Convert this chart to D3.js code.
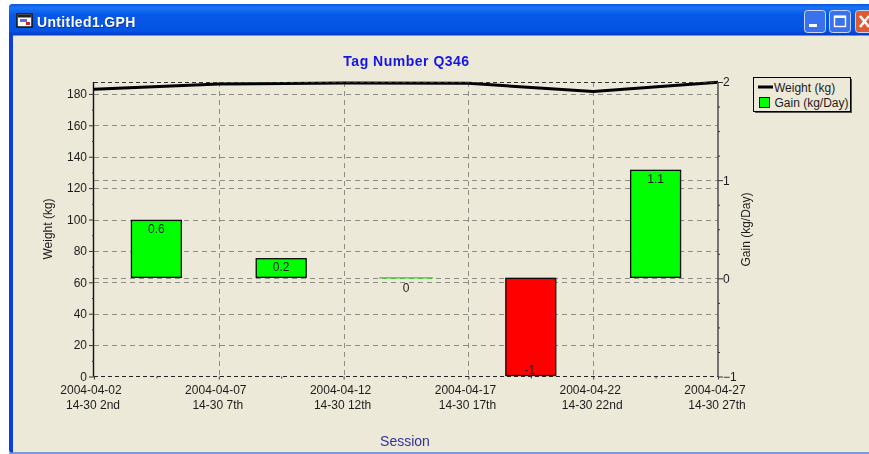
<!DOCTYPE html>
<html>
<head>
<meta charset="utf-8">
<script src="https://cdn.jsdelivr.net/npm/d3@7"></script>
<style>
  html, body { margin: 0; padding: 0; background: #fff; overflow: hidden; }
  svg { display: block; filter: blur(0.35px); }
  text { font-family: "Liberation Sans", Arial, sans-serif; fill: #1c1c1c; }
  .domain { display: none; }
</style>
</head>
<body>
<svg width="869" height="454"></svg>
<script>
const parseDate = d3.timeParse('%Y-%m-%d %H');

// weight line, one point per session
const sessionDates = ['2004-04-02 00', '2004-04-07 00', '2004-04-12 00', '2004-04-17 00', '2004-04-22 00', '2004-04-27 00'];
const sessionNames = ['14-30 2nd', '14-30 7th', '14-30 12th', '14-30 17th', '14-30 22nd', '14-30 27th'];
const weights = [183, 186.3, 187, 186.8, 181.5, 187.5];

// gain bars, centred between sessions
const gainDates = ['2004-04-04 12', '2004-04-09 12', '2004-04-14 12', '2004-04-19 12', '2004-04-24 12'];
const gains = [0.59, 0.2, 0, -1, 1.1];
const gainLabels = ['0.6', '0.2', '0', '-1', '1.1'];

const weightTicks = [0, 20, 40, 60, 80, 100, 120, 140, 160, 180];
const weightMinor = [10, 30, 50, 70, 90, 110, 130, 150, 170];
const gainTicks = [-1, 0, 1, 2];
const gainMinor = [-0.75, -0.5, -0.25, 0.25, 0.5, 0.75, 1.25, 1.5, 1.75];
const minorDates = ['2004-04-04 12', '2004-04-09 12', '2004-04-14 12', '2004-04-19 12', '2004-04-24 12'];

const legendLabels = ['Weight (kg)', 'Gain (kg/Day)'];

const plotLeft = 94, plotRight = 718, plotTop = 82, plotBottom = 376.5;
const svg = d3.select('svg');

// window frame
const grad = svg.append('defs').append('linearGradient')
  .attr('id', 'titlebar').attr('x1', 0).attr('x2', 0).attr('y1', 0).attr('y2', 1);
grad.append('stop').attr('offset', '0').attr('stop-color', '#0a55e4');
grad.append('stop').attr('offset', '0.12').attr('stop-color', '#1a74f4');
grad.append('stop').attr('offset', '0.35').attr('stop-color', '#0658e6');
grad.append('stop').attr('offset', '0.85').attr('stop-color', '#0454e4');
grad.append('stop').attr('offset', '1').attr('stop-color', '#0338c4');

svg.append('rect').attr('x', 9).attr('y', 4).attr('width', 880).attr('height', 449.5).attr('rx', 4).attr('fill', '#0a40d8');
svg.append('rect').attr('x', 9).attr('y', 4).attr('width', 880).attr('height', 31.5).attr('rx', 4).attr('fill', 'url(#titlebar)');
svg.append('rect').attr('x', 13).attr('y', 35.5).attr('width', 860).attr('height', 417).attr('fill', '#ECE9D8');
svg.append('rect').attr('x', 9).attr('y', 452.5).attr('width', 860).attr('height', 1.5).attr('fill', '#7b9bd8');

// title bar icon
const icon = svg.append('g');
icon.append('rect').attr('x', 17).attr('y', 14).attr('width', 15).attr('height', 13).attr('fill', '#fff').attr('stroke', '#111').attr('stroke-width', 1.5);
icon.append('rect').attr('x', 18).attr('y', 15).attr('width', 13).attr('height', 2.5).attr('fill', '#222');
icon.append('rect').attr('x', 20).attr('y', 19).attr('width', 7).attr('height', 3).attr('fill', '#6a6ad8');
icon.append('rect').attr('x', 26).attr('y', 22).attr('width', 4).attr('height', 3).attr('fill', '#c23');

svg.append('text').attr('x', 37.5).attr('y', 28)
  .style('fill', '#0a2f9a').style('font-weight', 'bold').style('font-size', '14px').style('letter-spacing', '0.35px')
  .text('Untitled1.GPH');
svg.append('text').attr('x', 37).attr('y', 27)
  .style('fill', '#fff').style('font-weight', 'bold').style('font-size', '14px').style('letter-spacing', '0.35px')
  .text('Untitled1.GPH');

// window buttons
[[804, '#3a72ee'], [829, '#3a72ee'], [855, '#dd5a32']].forEach(b => {
  svg.append('rect').attr('x', b[0] + 0.5).attr('y', 10.5).attr('width', 21).attr('height', 22).attr('rx', 3)
    .attr('fill', b[1]).attr('stroke', '#c8d6f6').attr('stroke-width', 1);
});
svg.append('rect').attr('x', 809).attr('y', 24).attr('width', 8).attr('height', 3).attr('fill', '#fff');
svg.append('rect').attr('x', 834.5).attr('y', 16.5).attr('width', 11).attr('height', 10).attr('fill', 'none').attr('stroke', '#fff').attr('stroke-width', 1.4);
svg.append('rect').attr('x', 834).attr('y', 15.5).attr('width', 12).attr('height', 2.5).attr('fill', '#fff');
svg.append('path').attr('d', 'M860 16L869 27M869 16L860 27').attr('stroke', '#fff').attr('stroke-width', 2.6).attr('fill', 'none');

// scales
const x = d3.scaleTime()
  .domain([parseDate(sessionDates[0]), parseDate(sessionDates[5])])
  .range([plotLeft, plotRight]);
const yWeight = d3.scaleLinear().domain([0, 187.6]).range([plotBottom, plotTop]);
const yGain = d3.scaleLinear().domain([-1, 2]).range([plotBottom, plotTop]);

// grid
const grid = svg.append('g').attr('fill', 'none').attr('stroke', '#8e8c84').attr('stroke-width', 1).attr('stroke-dasharray', '5 4');
grid.selectAll('.gw').data(weightTicks.slice(1)).join('line')
  .attr('x1', plotLeft).attr('x2', plotRight)
  .attr('y1', d => Math.round(yWeight(d)) + 0.5).attr('y2', d => Math.round(yWeight(d)) + 0.5);
grid.selectAll('.gg').data([0, 1]).join('line')
  .attr('x1', plotLeft).attr('x2', plotRight)
  .attr('y1', d => Math.round(yGain(d)) + 0.5).attr('y2', d => Math.round(yGain(d)) + 0.5);
grid.selectAll('.gx').data(sessionDates.slice(1, 5)).join('line')
  .attr('x1', d => Math.round(x(parseDate(d))) + 0.5).attr('x2', d => Math.round(x(parseDate(d))) + 0.5)
  .attr('y1', plotTop).attr('y2', plotBottom);

// gain bars
const oneDay = 24 * 3600 * 1000;
const barX0 = d => x(new Date(parseDate(d).getTime() - oneDay));
const barX1 = d => x(new Date(parseDate(d).getTime() + oneDay));
const barData = gains.map((g, i) => ({ date: gainDates[i], gain: g, label: gainLabels[i] }));

svg.append('g').selectAll('rect').data(barData.filter(d => d.gain !== 0)).join('rect')
  .attr('x', d => barX0(d.date))
  .attr('width', d => barX1(d.date) - barX0(d.date))
  .attr('y', d => yGain(Math.max(d.gain, 0)))
  .attr('height', d => Math.abs(yGain(d.gain) - yGain(0)) - 1)
  .attr('fill', d => d.gain < 0 ? '#ff0000' : '#00ff00')
  .attr('stroke', '#0a0a0a').attr('stroke-width', 1.3);

svg.append('g').selectAll('line').data(barData.filter(d => d.gain === 0)).join('line')
  .attr('x1', d => barX0(d.date) - 2).attr('x2', d => barX1(d.date) + 2)
  .attr('y1', d => yGain(0) - 0.5).attr('y2', d => yGain(0) - 0.5)
  .attr('stroke', '#22dd22').attr('stroke-width', 1.3);

svg.append('g').selectAll('text').data(barData).join('text')
  .attr('x', d => x(parseDate(d.date)) - (d.gain < 0 ? 1 : 0))
  .attr('y', d => {
    if (d.gain > 0) return yGain(d.gain) + 12.5;
    if (d.gain === 0) return yGain(0) + 13.5;
    return yGain(d.gain) - 3;
  })
  .attr('text-anchor', 'middle')
  .style('font-size', '12px')
  .text(d => d.label);

// weight line
const line = d3.line()
  .x((d, i) => x(parseDate(sessionDates[i])))
  .y(d => yWeight(d));
svg.append('path').datum(weights)
  .attr('fill', 'none').attr('stroke', '#000').attr('stroke-width', 3)
  .attr('d', line);

// frame lines
svg.append('line').attr('x1', plotLeft).attr('x2', plotRight).attr('y1', plotTop + 0.5).attr('y2', plotTop + 0.5)
  .attr('stroke', '#333').attr('stroke-dasharray', '4 3');
svg.append('line').attr('x1', plotLeft).attr('x2', plotRight).attr('y1', plotBottom).attr('y2', plotBottom)
  .attr('stroke', '#222').attr('stroke-width', 1.2).attr('stroke-dasharray', '4 3');
svg.append('line').attr('x1', plotLeft - 0.5).attr('x2', plotLeft - 0.5).attr('y1', plotTop).attr('y2', plotBottom)
  .attr('stroke', '#111').attr('stroke-width', 1.4);
svg.append('line').attr('x1', plotRight).attr('x2', plotRight).attr('y1', plotTop).attr('y2', plotBottom)
  .attr('stroke', '#555').attr('stroke-width', 1.6);

// axes
const styleAxis = g => {
  g.selectAll('line').attr('stroke', '#333');
  g.selectAll('text').style('font-size', '12px').attr('fill', null);
};
svg.append('g').attr('transform', `translate(${plotLeft},0)`)
  .call(d3.axisLeft(yWeight).tickValues(weightTicks).tickFormat(d3.format('d')).tickSize(5).tickPadding(2))
  .call(styleAxis);
svg.append('g').attr('transform', `translate(${plotLeft},0)`)
  .call(d3.axisLeft(yWeight).tickValues(weightMinor).tickFormat('').tickSize(2))
  .call(styleAxis);
svg.append('g').attr('transform', `translate(${plotRight},0)`)
  .call(d3.axisRight(yGain).tickValues(gainTicks).tickFormat(d3.format('d')).tickSize(5).tickPadding(0))
  .call(styleAxis);
svg.append('g').attr('transform', `translate(${plotRight},0)`)
  .call(d3.axisRight(yGain).tickValues(gainMinor).tickFormat('').tickSize(2))
  .call(styleAxis);

const dateFormat = d3.timeFormat('%Y-%m-%d');
const xAxis = svg.append('g').attr('transform', `translate(0,${plotBottom})`)
  .call(d3.axisBottom(x).tickValues(sessionDates.map(parseDate)).tickFormat('').tickSize(3))
  .call(styleAxis);
svg.append('g').attr('transform', `translate(0,${plotBottom})`)
  .call(d3.axisBottom(x).tickValues(minorDates.map(parseDate)).tickFormat('').tickSize(2))
  .call(styleAxis);
xAxis.selectAll('.tick').each(function(d, i) {
  const t = d3.select(this);
  t.append('text').attr('x', -3.5).attr('y', 17.5).attr('text-anchor', 'middle').style('font-size', '12px').text(dateFormat(d));
  t.append('text').attr('x', -1.5).attr('y', 32.5).attr('text-anchor', 'middle').style('font-size', '12px').text(sessionNames[i]);
});

// titles
svg.append('text').attr('x', 406.5).attr('y', 66).attr('text-anchor', 'middle')
  .style('fill', '#1414e6').style('font-weight', 'bold').style('font-size', '14px').style('letter-spacing', '0.5px')
  .text('Tag Number Q346');
svg.append('text').attr('x', 405).attr('y', 446).attr('text-anchor', 'middle')
  .style('fill', '#33339c').style('font-size', '14px')
  .text('Session');
svg.append('text').attr('transform', 'translate(52,229) rotate(-90)').attr('text-anchor', 'middle')
  .style('font-size', '12px').text('Weight (kg)');
svg.append('text').attr('transform', 'translate(750,229.5) rotate(-90)').attr('text-anchor', 'middle')
  .style('font-size', '12px').text('Gain (kg/Day)');

// legend
svg.append('rect').attr('x', 755).attr('y', 79).attr('width', 97).attr('height', 34).attr('fill', '#555');
svg.append('rect').attr('x', 753.5).attr('y', 77.5).attr('width', 97).attr('height', 34).attr('fill', '#ECE9D8').attr('stroke', '#000').attr('stroke-width', 1);
svg.append('line').attr('x1', 758).attr('x2', 773).attr('y1', 87).attr('y2', 87).attr('stroke', '#000').attr('stroke-width', 3);
svg.append('rect').attr('x', 759.5).attr('y', 97.5).attr('width', 10).attr('height', 10).attr('fill', '#00ff00').attr('stroke', '#111');
svg.selectAll('.legend').data(legendLabels).join('text')
  .attr('x', (d, i) => i === 0 ? 774 : 774.5)
  .attr('y', (d, i) => i === 0 ? 91.5 : 107)
  .style('font-size', '12px')
  .text(d => d);
</script>
</body>
</html>
